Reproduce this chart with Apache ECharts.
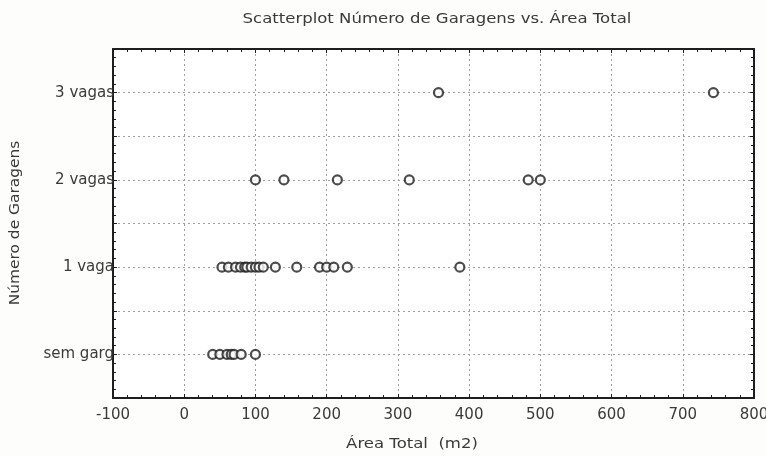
<!DOCTYPE html>
<html>
<head>
<meta charset="utf-8">
<script src="https://cdn.jsdelivr.net/npm/echarts@6/dist/echarts.min.js"></script>
<style>
  html, body { margin: 0; padding: 0; background: #fdfdfb; }
  #chart { width: 766px; height: 456px; }
</style>
</head>
<body>
<div id="chart"></div>
<script>
// Garage categories, bottom to top
const categories = ['sem garg', '1 vaga', '2 vagas', '3 vagas'];

// Total area (m2) of each property, grouped by number of garage spots
const areaSemGaragem = [40, 50, 60, 66, 70, 80, 100];
const areaUmaVaga = [53, 62, 72, 79, 85, 88, 94, 100, 105, 111, 128, 158, 190, 200, 210, 229, 387];
const areaDuasVagas = [100, 140, 215, 316, 483, 500];
const areaTresVagas = [357, 743];

const xTicks = { min: -100, max: 800, step: 100 };

const groups = [areaSemGaragem, areaUmaVaga, areaDuasVagas, areaTresVagas];
const points = [];
groups.forEach((arr, i) => arr.forEach(v => points.push([v, i])));

const font = '"DejaVu Sans", Verdana, sans-serif';
const ink = '#3a3a3a';
const gridLine = { show: true, lineStyle: { color: '#a0a0a0', type: [2, 3], width: 1 } };
const frame = { show: true, onZero: false, lineStyle: { color: '#1e1e1e', width: 2 } };
const ticks = { show: true, inside: true, length: 4, lineStyle: { color: '#1e1e1e' } };
const minor = { show: true, splitNumber: 5, length: 3, lineStyle: { color: '#1e1e1e' } };

const chart = echarts.init(document.getElementById('chart'), null, { renderer: 'canvas' });
chart.setOption({
  backgroundColor: '#fdfdfb',
  animation: false,
  // Titles are drawn as graphic text so they can be stretched a little wider
  graphic: [{
    type: 'text', x: 437, y: 19, scaleX: 1.18,
    style: { text: 'Scatterplot Número de Garagens vs. Área Total', font: '14px ' + font, fill: ink, align: 'center', verticalAlign: 'middle' }
  }, {
    type: 'text', x: 412, y: 444, scaleX: 1.18,
    style: { text: 'Área Total  (m2)', font: '14px ' + font, fill: ink, align: 'center', verticalAlign: 'middle' }
  }, {
    type: 'text', x: 15, y: 223, rotation: Math.PI / 2, scaleX: 1.1,
    style: { text: 'Número de Garagens', font: '14px ' + font, fill: ink, align: 'center', verticalAlign: 'middle' }
  }],
  grid: {
    left: 113, right: 12, top: 49, bottom: 58,
    outerBoundsMode: 'none', containLabel: false,
    backgroundColor: '#fff', show: true, borderWidth: 0
  },
  xAxis: [{
    type: 'value', min: xTicks.min, max: xTicks.max, interval: xTicks.step,
    axisLine: frame, axisTick: ticks, minorTick: minor,
    axisLabel: { fontFamily: font, fontSize: 15, color: ink, margin: 10 },
    splitLine: gridLine
  }, {
    type: 'value', position: 'top', min: xTicks.min, max: xTicks.max, interval: xTicks.step,
    axisLine: frame, axisTick: ticks, minorTick: minor,
    axisLabel: { show: false }, splitLine: { show: false }
  }],
  yAxis: [{
    type: 'value', min: -0.5, max: 3.5, interval: 0.5,
    axisLine: frame, axisTick: ticks, minorTick: minor,
    axisLabel: {
      fontFamily: font, fontSize: 15, color: ink, margin: -1,
      formatter: v => (Number.isInteger(v) && categories[v] !== undefined) ? categories[v] : ''
    },
    splitLine: gridLine
  }, {
    type: 'value', position: 'right', min: -0.5, max: 3.5, interval: 0.5,
    axisLine: frame, axisTick: ticks, minorTick: minor,
    axisLabel: { show: false }, splitLine: { show: false }
  }],
  series: [{
    type: 'scatter',
    data: points,
    symbol: 'circle',
    symbolSize: 9,
    itemStyle: { color: '#fff', borderColor: '#1e1e1e', borderWidth: 2.2 }
  }]
});
</script>
</body>
</html>
